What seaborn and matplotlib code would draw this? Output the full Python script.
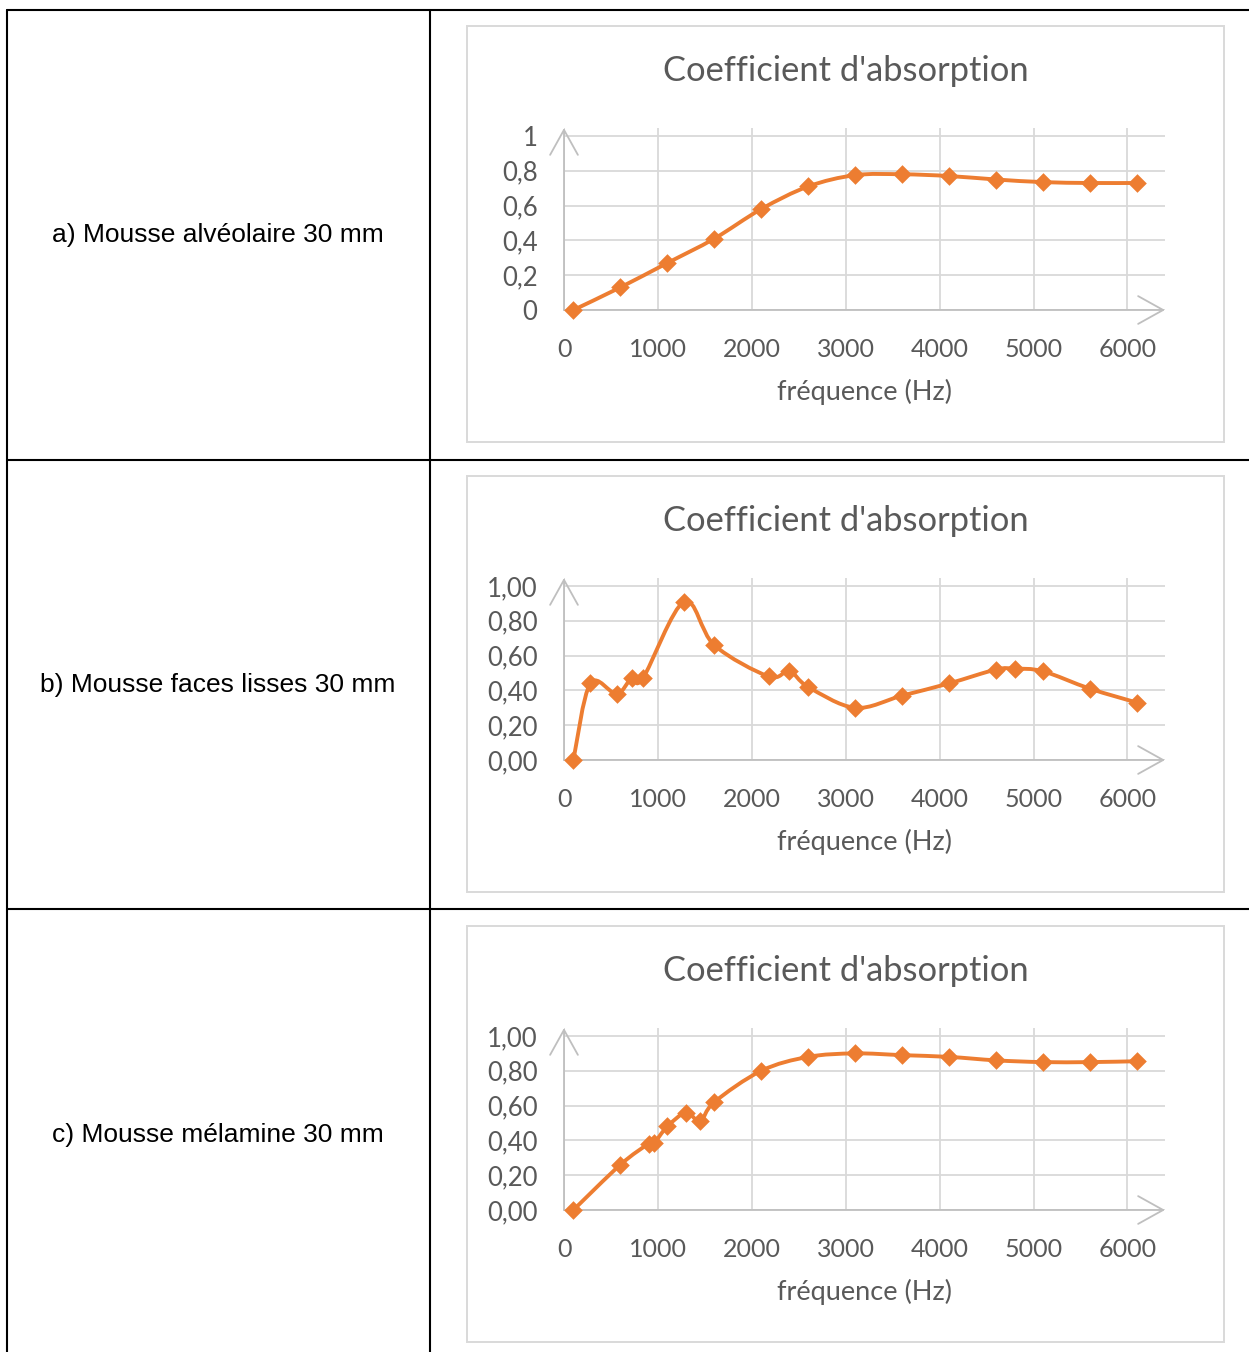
import numpy as np
import matplotlib
matplotlib.use("Agg")
import matplotlib.pyplot as plt
import seaborn as sns
from matplotlib.path import Path
from matplotlib.patches import PathPatch, Rectangle
from matplotlib.lines import Line2D
from matplotlib.ticker import FuncFormatter, MultipleLocator

sns.set_style("white")
plt.rcParams['font.family'] = ['Lato', 'DejaVu Sans']

# ---- data ----
row_labels = ["a) Mousse alvéolaire 30 mm",
              "b) Mousse faces lisses 30 mm",
              "c) Mousse mélamine 30 mm"]

freq_a = [100, 600, 1100, 1600, 2100, 2600, 3100, 3600, 4100, 4600, 5100, 5600, 6100]
alpha_a = [0, 0.13, 0.27, 0.41, 0.58, 0.71, 0.775, 0.78, 0.77, 0.75, 0.735, 0.73, 0.73]

freq_b = [100, 280, 560, 720, 840, 1280, 1600, 2180, 2400, 2600, 3100, 3600,
          4100, 4600, 4800, 5100, 5600, 6100]
alpha_b = [0, 0.44, 0.38, 0.47, 0.47, 0.91, 0.66, 0.48, 0.51, 0.42, 0.30, 0.37,
           0.44, 0.52, 0.525, 0.51, 0.41, 0.33]

freq_c = [100, 600, 900, 960, 1100, 1300, 1450, 1600, 2100, 2600, 3100, 3600,
          4100, 4600, 5100, 5600, 6100]
alpha_c = [0, 0.26, 0.38, 0.385, 0.48, 0.56, 0.51, 0.62, 0.80, 0.88, 0.90, 0.89,
           0.88, 0.86, 0.85, 0.85, 0.855]

x_ticks = [0, 1000, 2000, 3000, 4000, 5000, 6000]
y_ticks = [0, 0.2, 0.4, 0.6, 0.8, 1.0]
y_fmt = ["%g", "%.2f", "%.2f"]

title = "Coefficient d'absorption"
xlabel = "fréquence (Hz)"

series = [(freq_a, alpha_a), (freq_b, alpha_b), (freq_c, alpha_c)]

ORANGE = "#ED7D31"
GRID = "#D9D9D9"
TXT = "#595959"

W, H = 1249, 1352
fig = plt.figure(figsize=(W / 100, H / 100), dpi=100)


def fx(x):
    return x / W


def fy(y):
    return 1 - y / H


def smooth_path(x, y):
    # Excel-like smoothed line (Catmull-Rom as cubic Bezier)
    p = np.column_stack([x, y]).astype(float)
    ext = np.vstack([p[0], p, p[-1]])
    verts = [p[0]]
    codes = [Path.MOVETO]
    for i in range(len(p) - 1):
        c1 = ext[i + 1] + (ext[i + 2] - ext[i]) / 6
        c2 = ext[i + 2] - (ext[i + 3] - ext[i + 1]) / 6
        verts += [c1, c2, p[i + 1]]
        codes += [Path.CURVE4] * 3
    return Path(verts, codes)


# table lines
lw_tab = 1.5
for (x0, y0, x1, y1) in [(7, 10, W, 10), (7, 460, W, 460), (7, 909, W, 909),
                         (7, 10, 7, H), (430, 10, 430, H)]:
    fig.add_artist(Line2D([fx(x0), fx(x1)], [fy(y0), fy(y1)],
                          color="black", lw=lw_tab, transform=fig.transFigure))

for k, (freq, alpha) in enumerate(series):
    dy = 450 * k

    # left column label
    fig.text(fx(218), fy(235 + dy), row_labels[k], ha="center", va="center",
             fontsize=19, family=["Liberation Sans", "DejaVu Sans"], color="black")

    # chart frame
    fig.add_artist(Rectangle((fx(467), fy(442 + dy)), (1224 - 467) / W, 416 / H,
                             transform=fig.transFigure, fill=False,
                             ec=GRID, lw=1.4))

    ax = fig.add_axes([fx(564), fy(310 + dy), 601 / W, 182 / H])
    ax.set_xlim(0, 6400)
    ax.set_ylim(0, 1.046)
    ax.set_xticks(x_ticks)
    ax.xaxis.set_minor_locator(MultipleLocator(500))
    ax.set_yticks(y_ticks)
    ax.grid(True, which="major", color=GRID, lw=1.3)
    ax.set_axisbelow(True)
    for s in ax.spines.values():
        s.set_visible(False)

    fmt = y_fmt[k]
    ax.yaxis.set_major_formatter(FuncFormatter(
        lambda v, pos, f=fmt: (f % v).replace(".", ",")))
    ax.xaxis.set_major_formatter(FuncFormatter(lambda v, pos: "%d" % v))

    ax.tick_params(axis="x", which="major", length=8, width=1.3, color=GRID,
                   labelcolor=TXT, labelsize=18, pad=12, direction="out")
    ax.tick_params(axis="x", which="minor", length=5, width=1.3, color=GRID,
                   direction="out")
    ax.tick_params(axis="y", which="major", length=7, width=1.3, color=GRID,
                   labelcolor=TXT, labelsize=18.5, pad=12, direction="out")

    # axis lines with open arrow heads
    arrow = dict(arrowstyle="->,head_length=0.9,head_width=0.5", color="#BFBFBF",
                 lw=1.3, shrinkA=0, shrinkB=0, mutation_scale=20)
    ax.annotate("", xy=(1.0, 0), xytext=(0, 0), xycoords="axes fraction",
                arrowprops=arrow, annotation_clip=False)
    ax.annotate("", xy=(0, 1.0), xytext=(0, 0), xycoords="axes fraction",
                arrowprops=arrow, annotation_clip=False)

    # smoothed line + diamond markers
    ax.add_patch(PathPatch(smooth_path(freq, alpha), facecolor="none",
                           edgecolor=ORANGE, lw=2.8, capstyle="round",
                           joinstyle="round", zorder=3, clip_on=False))
    sns.scatterplot(x=freq, y=alpha, marker="D", s=90, color=ORANGE,
                    edgecolor=ORANGE, linewidth=0, ax=ax, zorder=4, clip_on=False)
    ax.set_xlabel("")
    ax.set_ylabel("")

    fig.text(fx(845.5), fy(71 + dy), title, ha="center", va="center",
             fontsize=24.8, color=TXT)
    fig.text(fx(864.5), fy(392 + dy), xlabel, ha="center", va="center",
             fontsize=19.5, color=TXT)

fig.savefig("out.png", dpi=100)
plt.close(fig)
